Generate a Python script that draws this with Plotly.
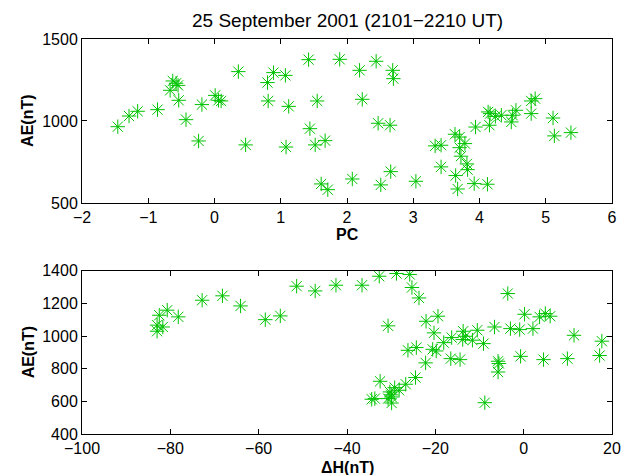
import plotly.graph_objects as go

# Top panel: PC vs AE
pc = [-1.46, -1.29, -1.16, -0.86, -0.63, -0.58, -0.55, -0.67, -0.54, -0.43,
      -0.24, -0.19, 0.01, 0.06, 0.10, 0.36, 0.47, 0.80, 0.89, 0.81,
      1.07, 1.08, 1.12, 1.42, 1.55, 1.44, 1.52, 1.67, 1.61, 1.71,
      1.89, 2.08, 2.19, 2.44, 2.69, 2.70, 2.23, 2.47, 2.65, 2.51,
      2.66, 3.04, 3.33, 3.42, 3.42, 3.63, 3.70, 3.78, 3.70, 3.72,
      3.81, 3.82, 3.64, 3.67, 3.92, 4.12, 3.94, 4.15, 4.13, 4.16,
      4.24, 4.33, 4.48, 4.50, 4.55, 4.78, 4.78, 4.84, 5.11, 5.13, 5.38]
ae_top = [965, 1030, 1059, 1069, 1244, 1230, 1217, 1187, 1126, 1008,
          878, 1100, 1156, 1126, 1122, 1301, 854, 1234, 1295, 1122,
          1278, 841, 1089, 1374, 1122, 953, 854, 880, 616, 581,
          1376, 646, 1309, 1364, 1309, 1258, 1132, 986, 974, 610,
          691, 632, 848, 852, 720, 919, 902, 862, 837, 785,
          738, 703, 667, 585, 618, 614, 963, 974, 1055, 1045,
          1028, 1035, 994, 1035, 1065, 1045, 1122, 1136, 1018, 909, 929]

# Bottom panel: dH vs AE
dh = [-83.0, -83.0, -82.5, -81.7, -80.7, -78.2, -72.8, -68.2, -64.1, -58.5,
      -55.1, -51.4, -47.2, -42.5, -36.6, -32.7, -28.8, -25.8, -25.3, -23.7,
      -30.7, -3.6, 0.2, 3.6, 4.9, 6.0, 11.4, 17.7, 17.2, 9.9,
      4.5, -0.7, -6.6, -3.0, -0.9, 2.1, -5.8, -5.6, -5.8, -8.8,
      -9.1, -10.5, -11.6, -13.7, -13.2, -13.8, -16.3, -14.4, -16.5, -18.1,
      -19.4, -20.3, -22.1, -20.6, -19.8, -24.3, -26.2, -22.2, -24.5, -26.7,
      -28.2, -29.2, -29.9, -30.3, -29.9, -32.5, -34.4, -33.7, -30.7, -30.0]
ae_bot = [1030, 1067, 1128, 1056, 1159, 1118, 1220, 1247, 1185, 1101,
          1124, 1306, 1277, 1312, 1312, 1367, 1384, 1378, 1298, 1234,
          1063, 1261, 1134, 1118, 1138, 1122, 1005, 969, 881, 862,
          856, 876, 1056, 1046, 1040, 1046, 846, 832, 780, 592,
          954, 1036, 975, 1030, 999, 979, 991, 856, 862, 960,
          1122, 1020, 1091, 919, 909, 930, 913, 836, 746, 705,
          668, 684, 627, 658, 590, 723, 613, 617, 617, 640]

pc_ticks = [-2, -1, 0, 1, 2, 3, 4, 5, 6]
ae_top_ticks = [500, 1000, 1500]
dh_ticks = [-100, -80, -60, -40, -20, 0, 20]
ae_bot_ticks = [400, 600, 800, 1000, 1200, 1400]

GREEN = "rgb(0,195,0)"
FONT = "Liberation Sans, Arial, sans-serif"

fig = go.Figure()
mk = dict(symbol="asterisk-open", size=12, color=GREEN, line=dict(color=GREEN, width=1))
fig.add_trace(go.Scatter(x=pc, y=ae_top, mode="markers", marker=mk, xaxis="x", yaxis="y", showlegend=False))
fig.add_trace(go.Scatter(x=dh, y=ae_bot, mode="markers", marker=mk, xaxis="x2", yaxis="y2", showlegend=False))

ax = dict(showline=True, linecolor="black", linewidth=1, mirror="ticks", ticks="inside",
          ticklen=5, tickcolor="black", showgrid=False, zeroline=False,
          tickfont=dict(family=FONT, size=16, color="black"))

fig.update_layout(
    width=633, height=475,
    margin=dict(l=81.5, r=18, t=39, b=41),
    paper_bgcolor="white", plot_bgcolor="white",
    xaxis=dict(ax, domain=[0, 1], range=[-2, 6], tickvals=pc_ticks, anchor="y"),
    yaxis=dict(ax, domain=[0.585, 1.0], range=[500, 1500], tickvals=ae_top_ticks, anchor="x"),
    xaxis2=dict(ax, domain=[0, 1], range=[-100, 20], tickvals=dh_ticks, anchor="y2"),
    yaxis2=dict(ax, domain=[0.0, 0.413], range=[400, 1400], tickvals=ae_bot_ticks, anchor="x2"),
    annotations=[
        dict(text="25 September 2001 (2101\u22122210 UT)", x=0.5, y=1.048, xref="paper", yref="paper",
             showarrow=False, xanchor="center", yanchor="middle",
             font=dict(family=FONT, size=19, color="black")),
        dict(text="<b>PC</b>", x=0.5, y=0.504, xref="paper", yref="paper",
             showarrow=False, xanchor="center", yanchor="middle",
             font=dict(family=FONT, size=16, color="black")),
        dict(text="<b>\u0394H(nT)</b>", x=0.5, y=-0.086, xref="paper", yref="paper",
             showarrow=False, xanchor="center", yanchor="middle",
             font=dict(family=FONT, size=16, color="black")),
        dict(text="<b>AE(nT)</b>", x=-0.102, y=0.7925, xref="paper", yref="paper", textangle=-90,
             showarrow=False, xanchor="center", yanchor="middle",
             font=dict(family=FONT, size=16, color="black")),
        dict(text="<b>AE(nT)</b>", x=-0.102, y=0.2065, xref="paper", yref="paper", textangle=-90,
             showarrow=False, xanchor="center", yanchor="middle",
             font=dict(family=FONT, size=16, color="black")),
    ],
)

fig.write_html("out.html")
